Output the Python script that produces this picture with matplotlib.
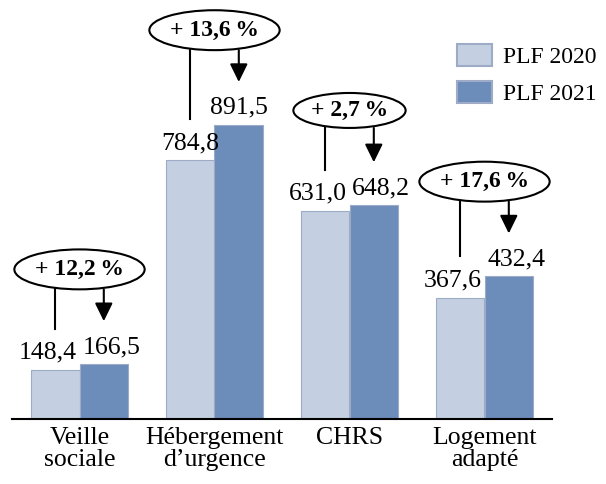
import matplotlib
matplotlib.use('Agg')
import matplotlib.pyplot as plt
from matplotlib.patches import Ellipse, Patch

categories = ['Veille\nsociale', 'Hébergement\nd\u2019urgence', 'CHRS', 'Logement\nadapté']
plf_2020 = [148.4, 784.8, 631.0, 367.6]
plf_2021 = [166.5, 891.5, 648.2, 432.4]
hausse = ['+ 12,2\u2009%', '+ 13,6\u2009%', '+ 2,7\u2009%', '+ 17,6\u2009%']
series_names = ['PLF 2020', 'PLF 2021']

c_light = '#c4cfe1'
c_dark = '#6c8cba'
c_edge = '#9eabc6'

plt.rcParams['font.family'] = ['Liberation Serif', 'DejaVu Serif']

fig = plt.figure(figsize=(6.06, 4.84), dpi=100)
ax = fig.add_axes([12 / 606, 65 / 484, 540 / 606, 419 / 484])

x = list(range(len(categories)))
w = 0.36
ax.bar([i - w / 2 for i in x], plf_2020, w, color=c_light, edgecolor=c_edge, linewidth=0.8)
ax.bar([i + w / 2 for i in x], plf_2021, w, color=c_dark, edgecolor=c_edge, linewidth=0.8)

ax.set_xlim(-0.5, 3.5)
ax.set_ylim(0, 1270)

# étiquettes de valeurs
fmt = lambda v: '{:.1f}'.format(v).replace('.', ',')
for i in x:
    a, b = plf_2020[i], plf_2021[i]
    if abs(b - a) < 80:
        ax.annotate(fmt(a), (i, a), xytext=(-2, 8), textcoords='offset points',
                    ha='right', va='baseline', fontsize=18.5)
        ax.annotate(fmt(b), (i, b), xytext=(2, 8), textcoords='offset points',
                    ha='left', va='baseline', fontsize=18.5)
    else:
        ax.annotate(fmt(a), (i - w / 2, a), xytext=(0, 8), textcoords='offset points',
                    ha='center', va='baseline', fontsize=18.5)
        ax.annotate(fmt(b), (i + w / 2, b), xytext=(0, 8), textcoords='offset points',
                    ha='center', va='baseline', fontsize=18.5)

# bulles d'évolution
for i in x:
    a, b = plf_2020[i], plf_2021[i]
    cy = b + 287
    n = len(hausse[i].replace('\u2009', ' '))
    ew = (130 - (8 - n) * 18) / 134.7
    eh = 121 if n == 8 else 106
    ax.add_patch(Ellipse((i, cy), ew, eh, facecolor='white', edgecolor='black', lw=1.5, zorder=3))
    ax.text(i, cy, hausse[i], ha='center', va='center', fontsize=17, fontweight='bold', zorder=4)
    bot = cy - eh / 2
    ax.plot([i - w / 2, i - w / 2], [bot, a + 125], color='black', lw=1.5)
    ax.annotate('', xy=(i + w / 2, b + 130), xytext=(i + w / 2, bot),
                arrowprops=dict(arrowstyle='-|>,head_length=0.55,head_width=0.27',
                                lw=1.5, color='black', shrinkA=0, shrinkB=0,
                                mutation_scale=20))

for s in ['top', 'right', 'left']:
    ax.spines[s].set_visible(False)
ax.spines['bottom'].set_linewidth(1.5)
ax.set_yticks([])
ax.set_xticks(x)
ax.set_xticklabels(categories, fontsize=18.5, linespacing=1.0)
ax.tick_params(axis='x', length=0, pad=6)

handles = [Patch(facecolor=c_light, edgecolor=c_edge, lw=1.5),
           Patch(facecolor=c_dark, edgecolor=c_edge, lw=1.5)]
fig.legend(handles, series_names, loc='upper left', bbox_to_anchor=(457 / 606, 1 - 44 / 484),
           frameon=False, fontsize=17, handlelength=1.48, handleheight=1.06,
           handletextpad=0.45, labelspacing=0.55, borderpad=0, borderaxespad=0)

plt.savefig('out.png', dpi=100)
